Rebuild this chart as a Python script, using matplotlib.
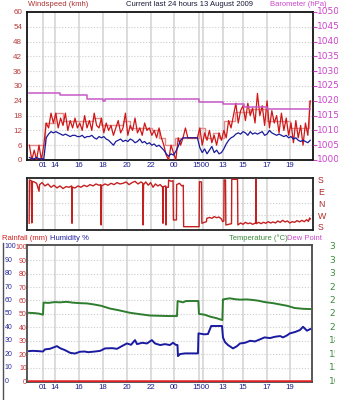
import numpy as np
import matplotlib
matplotlib.use("Agg")
import matplotlib.pyplot as plt
from matplotlib.lines import Line2D
from matplotlib.transforms import Bbox, TransformedBbox, blended_transform_factory

plt.rcParams['font.family'] = ['Liberation Sans', 'DejaVu Sans']

# ---------------- data (hours since start of the 24 h window) ----------------
wind_t = np.round(np.arange(0.2, 23.61, 0.2), 2)
gust_kmh = [6, 0, 4, 0, 6,   0, 6, 15, 13, 19,   15, 19, 13, 17, 14,
            19, 12, 16, 13, 17,   13, 15, 12, 18, 13,   16, 12, 19, 14, 13,
            17, 11, 15, 12, 14,   10, 13, 16, 11, 13,   19, 10, 14, 12, 17,
            11, 13, 10, 15, 12,   13, 10, 12, 9, 13,   9, 6, 2, 0, 6,
            3, 0, 9, 6, 9,   13, 9, 9, 9, 9,   9, 13, 6, 11, 8,
            12, 7, 10, 6, 11,   8, 12, 9, 16, 13,   18, 23, 15, 20, 22,
            16, 23, 18, 21, 15,   27, 18, 22, 14, 24,   13, 20, 15, 18, 11,
            19, 12, 17, 10, 15,   7, 16, 9, 14, 6,   15, 10, 24]
avg_kmh = [1, 0.5, 0.5, 1, 0.5,   0.5, 0.5, 9, 10.5, 11.5,   11, 11.5, 11, 10.5, 10,
           10.5, 10, 9.5, 10, 10,   9.5, 9.5, 10, 9, 9.5,   9.5, 10, 9, 8.5, 9.5,
           9, 9.5, 8.5, 8, 7,   6, 7.5, 8, 8.5, 7.5,   8, 7.5, 8.5, 8, 7,
           7.5, 8.5, 7, 7.5, 6.5,   7, 6, 6.5, 5.5, 6,   5, 4, 2.5, 1.5, 2.5,
           2, 3.5, 5.5, 8, 9,   9, 9, 9, 9, 9,   9, 5, 3, 4.5, 2.5,
           4, 5.5, 3, 4, 2.5,   3, 4.5, 6.5, 8, 9,   9.5, 10.5, 11, 10.5, 11.5,
           11, 10, 11.5, 10.5, 11,   10.5, 11, 11.5, 10, 10.5,   12, 11, 10.5, 10, 10.5,
           10, 9.5, 10, 9, 9.5,   8.5, 9, 8, 7.5, 8,   7.5, 7, 8]
gmax_t = [0.2, 1.5, 2.3, 3.0, 5.5, 6.2, 8.0, 8.6, 10.4, 11.0, 11.5, 12.3,
          14.33, 14.8, 15.5, 16.0, 16.4, 17.33, 18.58, 20.0, 21.92, 23.5, 23.6]
gmax_kmh = [6, 15, 19, 16, 17, 14, 16, 13, 12, 9, 6, 9,
            13, 9, 11, 9, 16, 19.5, 20.5, 16, 13, 24, 24]

baro_t = [0.2, 2.75, 5.0, 6.3, 6.5, 14.33, 16.33, 18.1, 20.0, 23.6]
baro_hpa = [1022.8, 1021.9, 1020.7, 1020.0, 1020.7, 1019.7, 1018.9, 1017.8, 1017.2, 1017.2]

dir_t = [0.18, 0.20, 0.35, 0.40, 0.45, 0.6, 0.8, 1.0, 1.05, 1.25,
         1.5, 1.75, 2.0, 2.25, 2.5, 2.75, 3.0, 3.25, 3.5, 3.72,
         3.75, 3.78, 4.0, 4.25, 4.5, 4.75, 5.0, 5.25, 5.5, 5.75,
         6.0, 6.15, 6.18, 6.21, 6.5, 6.75, 7.0, 7.25, 7.5, 7.75,
         8.0, 8.25, 8.5, 8.75, 9.0, 9.25, 9.5, 9.65, 9.68, 9.71,
         9.9, 10.1, 10.3, 10.5, 10.7, 10.9, 11.1, 11.3, 11.33, 11.36,
         11.55, 11.58, 11.61, 11.78, 11.8, 12.0, 12.17, 12.2, 12.45, 12.47,
         12.7, 12.9, 13.02, 13.05, 14.34, 14.37, 14.54, 14.57, 14.8, 14.95,
         14.98, 15.2, 15.4, 15.6, 15.8, 16.0, 16.2, 16.3, 16.4, 16.42,
         16.54, 16.57, 16.8, 17.04, 17.06, 17.54, 17.57, 17.8, 18.0, 18.2,
         18.4, 18.6, 18.8, 19.05, 19.08, 19.11, 19.3, 19.5, 19.7, 19.9,
         20.1, 20.3, 20.5, 20.7, 20.9, 21.1, 21.3, 21.5, 21.7, 21.9,
         22.1, 22.3, 22.5, 22.7, 22.9, 23.1, 23.3, 23.45, 23.55, 23.6]
dir_deg = [28, 355, 350, 30, 345, 340, 330, 270, 320, 335,
           310, 325, 300, 315, 295, 310, 290, 305, 300, 310,
           28, 300, 295, 310, 300, 315, 305, 320, 310, 325,
           315, 320, 15, 310, 325, 315, 330, 320, 335, 325,
           330, 340, 320, 335, 345, 325, 340, 330, 15, 320,
           340, 315, 335, 300, 325, 310, 320, 300, 28, 305,
           310, 15, 300, 300, 355, 345, 350, 53, 53, 320,
           330, 310, 315, 2, 2, 342, 340, 28, 35, 40,
           65, 72, 65, 78, 70, 75, 60, 40, 45, 355,
           355, 15, 20, 25, 360, 360, 15, 30, 20, 35,
           25, 30, 20, 30, 360, 25, 35, 25, 35, 28,
           40, 30, 38, 30, 45, 35, 50, 38, 45, 30,
           40, 35, 48, 38, 50, 40, 55, 42, 68, 60]

temp_t = [0.17, 0.6, 1.0, 1.33, 1.38, 1.8, 2.3, 2.75, 3.3, 3.8,
          4.4, 5.0, 5.6, 6.2, 6.9, 7.6, 8.6, 9.4, 10.25, 11.0,
          11.8, 12.5, 12.55, 13.0, 13.25, 13.8, 14.28, 14.33, 14.8, 15.25,
          15.8, 16.28, 16.33, 16.6, 16.9, 17.3, 17.75, 18.3, 18.8, 19.3,
          19.8, 20.5, 21.1, 21.7, 22.3, 23.0, 23.6]
temp_c = [22.7, 22.65, 22.55, 22.35, 24.6, 24.55, 24.7, 24.65, 24.75, 24.6,
          24.5, 24.45, 24.25, 24.0, 23.5, 23.2, 22.7, 22.45, 22.2, 22.15,
          22.1, 22.1, 24.9, 24.65, 24.9, 24.9, 24.9, 22.5, 22.35, 22.0,
          21.7, 21.35, 25.2, 25.3, 25.4, 25.25, 25.15, 25.2, 25.1, 24.95,
          24.7, 24.5, 24.25, 24.0, 23.6, 23.45, 23.4]

hum_t = [0.17, 0.5, 0.9, 1.33, 1.5, 1.9, 2.2, 2.5, 2.75, 3.17,
         3.6, 4.0, 4.4, 4.8, 5.1, 5.67, 6.1, 6.5, 7.1, 7.5,
         7.9, 8.33, 8.67, 9.0, 9.17, 9.6, 10.0, 10.4, 10.67, 11.1,
         11.5, 11.9, 12.17, 12.4, 12.54, 12.58, 12.75, 13.17, 13.7, 14.25,
         14.29, 14.75, 15.08, 15.35, 15.7, 16.25, 16.33, 16.5, 16.75, 17.17,
         17.5, 17.75, 18.17, 18.6, 19.0, 19.4, 19.8, 20.25, 20.67, 21.1,
         21.33, 21.67, 21.9, 22.33, 22.75, 23.0, 23.33, 23.6]
hum_pct = [22.3, 22.5, 22.3, 22.0, 23.6, 24.0, 25.0, 26.0, 24.5, 23.0,
           21.0, 20.5, 21.8, 22.0, 21.5, 22.0, 22.5, 24.3, 24.5, 24.0,
           26.0, 28.0, 27.0, 30.5, 27.5, 28.5, 28.0, 30.5, 28.0, 26.8,
           27.5, 26.8, 28.5, 27.0, 26.8, 18.6, 20.1, 20.6, 20.6, 20.6,
           35.5, 34.8, 35.0, 41.0, 41.0, 41.0, 32.5, 29.0, 26.8, 24.3,
           26.0, 28.0, 28.5, 30.0, 29.5, 31.0, 32.5, 32.0, 33.0, 33.5,
           32.5, 34.0, 35.5, 36.5, 38.0, 40.4, 37.5, 38.7]

rain_t = [0.17, 23.6]
rain_mm = [0, 0]

# ---------------- axis labelling ----------------
grid_hours = [1.36, 2.33, 4.33, 6.31, 8.31, 10.31, 12.28, 14.33, 14.69, 16.31, 17.98, 19.98, 21.92]
hour_ticks = [1.36, 2.33, 4.33, 6.31, 8.31, 10.31, 12.28, 14.5, 16.31, 17.98, 19.98, 21.92]
hour_labels = ['01', '14', '16', '18', '20', '22', '00', '1500', '13', '15', '17', '19']
speed_ticks = list(range(0, 61, 6))
baro_ticks = list(range(1000, 1051, 5))
dir_ticks = [0, 90, 180, 270, 360]
dir_labels = ['S', 'W', 'N', 'E', 'S']
pct_ticks = list(range(0, 101, 10))
temp_ticks = [10, 12.5, 15, 17.5, 20, 22.5, 25, 27.5, 30, 32.5, 35]
temp_labels = ['10', '13', '15', '18', '20', '23', '25', '28', '30', '33', '35']

# ---------------- figure ----------------
W, H = 345, 400
fig = plt.figure(figsize=(W / 100, H / 100), dpi=100, facecolor='white')


def rect(left, top, right, bottom):
    return [left / W, 1 - bottom / H, (right - left) / W, (bottom - top) / H]


def fx(px):
    return px / W


def fy(py):
    return 1 - py / H


NAVY = '#1c1c8c'
WRED = '#b83a3a'
MAG = '#cc44cc'
GREEN = '#3a8a3a'
GRIDV = '#dcdcdc'
GRIDH = '#cdcdcd'

ax1 = fig.add_axes(rect(27, 12, 313, 160))
ax2 = fig.add_axes(rect(27, 178, 313, 230))
ax3 = fig.add_axes(rect(27, 245, 312, 382))

for ax, xr in ((ax1, 23.83), (ax2, 23.83), (ax3, 23.75)):
    ax.set_xlim(0, xr)
    for h in grid_hours:
        ax.axvline(h, color=GRIDV, lw=1.4, zorder=0)
    ax.tick_params(length=0)

dotted = dict(color=GRIDH, lw=0.8, ls=(0, (1, 1.6)), zorder=0)

# --- wind speed / barometer ---
ax1.set_ylim(0, 60)
for v in speed_ticks[1:-1]:
    ax1.axhline(v, **dotted)
ax1.plot(gmax_t, gmax_kmh, drawstyle='steps-post', color='#e48c8c', lw=1.0, zorder=2)
ax1.plot(wind_t, gust_kmh, color='#d01616', lw=0.9, zorder=3)
ax1.plot(wind_t, avg_kmh, color='#1a1a9a', lw=0.9, zorder=4)
ax1.set_yticks(speed_ticks)
ax1.tick_params(axis='y', labelsize=5.8, labelcolor=WRED, pad=3.5)
ax1.set_xticks(hour_ticks, hour_labels)
ax1.tick_params(axis='x', labelsize=5.6, labelcolor=NAVY, pad=1.2)
for s in ax1.spines.values():
    s.set_linewidth(1.3)
    s.set_color('#111111')

ax1b = ax1.twinx()
ax1b.set_ylim(1000, 1050)
ax1b.plot(baro_t, baro_hpa, drawstyle='steps-post', color='#c658c6', lw=1.1, zorder=5)
ax1b.set_yticks(baro_ticks)
ax1b.tick_params(axis='y', length=3, width=0.8, color=MAG, direction='out', labelright=False)
for s in ax1b.spines.values():
    s.set_visible(False)

clip_top = TransformedBbox(Bbox.from_extents(0, 0, fx(338), 1), fig.transFigure)
tr_baro = blended_transform_factory(fig.transFigure, ax1b.transData)
for v in baro_ticks:
    t = fig.text(fx(317), v, str(v), transform=tr_baro, ha='left', va='center',
                 fontsize=6.5, color=MAG, family='DejaVu Sans')
    t.set_clip_box(clip_top)
    t.set_clip_on(True)

# --- wind direction ---
ax2.set_ylim(-23, 370)
for v in dir_ticks[1:-1]:
    ax2.axhline(v, **dotted)
ax2.plot(dir_t, dir_deg, color='#c42020', lw=1.0, zorder=3)
ax2.set_xticks([])
ax2.set_yticks(dir_ticks, dir_labels)
ax2.tick_params(axis='y', left=False, labelleft=False, right=False, labelright=True,
                labelsize=6.3, labelcolor='#b02828', pad=3.5)
for s in ax2.spines.values():
    s.set_linewidth(1.3)
    s.set_color('#222222')

# --- rainfall / humidity / temperature ---
ax3.set_ylim(-0.7, 101.3)
for v in pct_ticks[1:-1]:
    ax3.axhline(v, **dotted)
ax3.plot(hum_t, hum_pct, color='#1a1aa0', lw=1.4, zorder=3)
ax3.plot(rain_t, rain_mm, color='#e02020', lw=1.8, zorder=4)
ax3.set_yticks(pct_ticks)
ax3.tick_params(axis='y', labelsize=5.0, labelcolor='#c83030', pad=0.2)
ax3.set_xticks(hour_ticks, hour_labels)
ax3.tick_params(axis='x', labelsize=5.6, labelcolor=NAVY, pad=1.2)
for s in ax3.spines.values():
    s.set_linewidth(1.3)
    s.set_color('#4a4a4a')

tr_pct = blended_transform_factory(fig.transFigure, ax3.transData)
for v in pct_ticks:
    fig.text(fx(4.5), v, str(v), transform=tr_pct, ha='left', va='center',
             fontsize=5.0, color='#2a2aa0')

ax3b = ax3.twinx()
ax3b.set_ylim(10 - 0.7 / 4, 10 + 101.3 / 4)
ax3b.plot(temp_t, temp_c, color='#2e7d2e', lw=1.4, zorder=5)
ax3b.set_yticks([])
for s in ax3b.spines.values():
    s.set_visible(False)

clip_bot = TransformedBbox(Bbox.from_extents(0, 0, fx(335), 1), fig.transFigure)
tr_temp = blended_transform_factory(fig.transFigure, ax3b.transData)
for v, lab in zip(temp_ticks, temp_labels):
    t = fig.text(fx(329), v, lab, transform=tr_temp, ha='left', va='center',
                 fontsize=6.5, color=GREEN, family='DejaVu Sans')
    t.set_clip_box(clip_bot)
    t.set_clip_on(True)

# --- headings ---
hs = 5.5
fig.text(fx(28), fy(5), 'Windspeed (kmh)', ha='left', va='center', fontsize=hs, color='#b03030')
fig.text(fx(190), fy(5), 'Current last 24 hours 13 August 2009', ha='center', va='center',
         fontsize=hs, color='#1a1a3a')
fig.text(fx(270), fy(4.5), 'Barometer (hPa)', ha='left', va='center', fontsize=hs, color=MAG)
fig.text(fx(2), fy(238), 'Rainfall (mm)', ha='left', va='center', fontsize=hs, color='#d02020')
fig.text(fx(50), fy(238), 'Humidity %', ha='left', va='center', fontsize=hs, color='#2020a0')
fig.text(fx(229), fy(238), 'Temperature (°C)', ha='left', va='center', fontsize=hs, color=GREEN)
fig.text(fx(287), fy(238), 'Dew Point', ha='left', va='center', fontsize=hs, color=MAG)

fig.add_artist(Line2D([fx(3), fx(3)], [0, fy(243)], color='#505050', lw=1.0))

fig.savefig('out.png', dpi=100, facecolor='white')
